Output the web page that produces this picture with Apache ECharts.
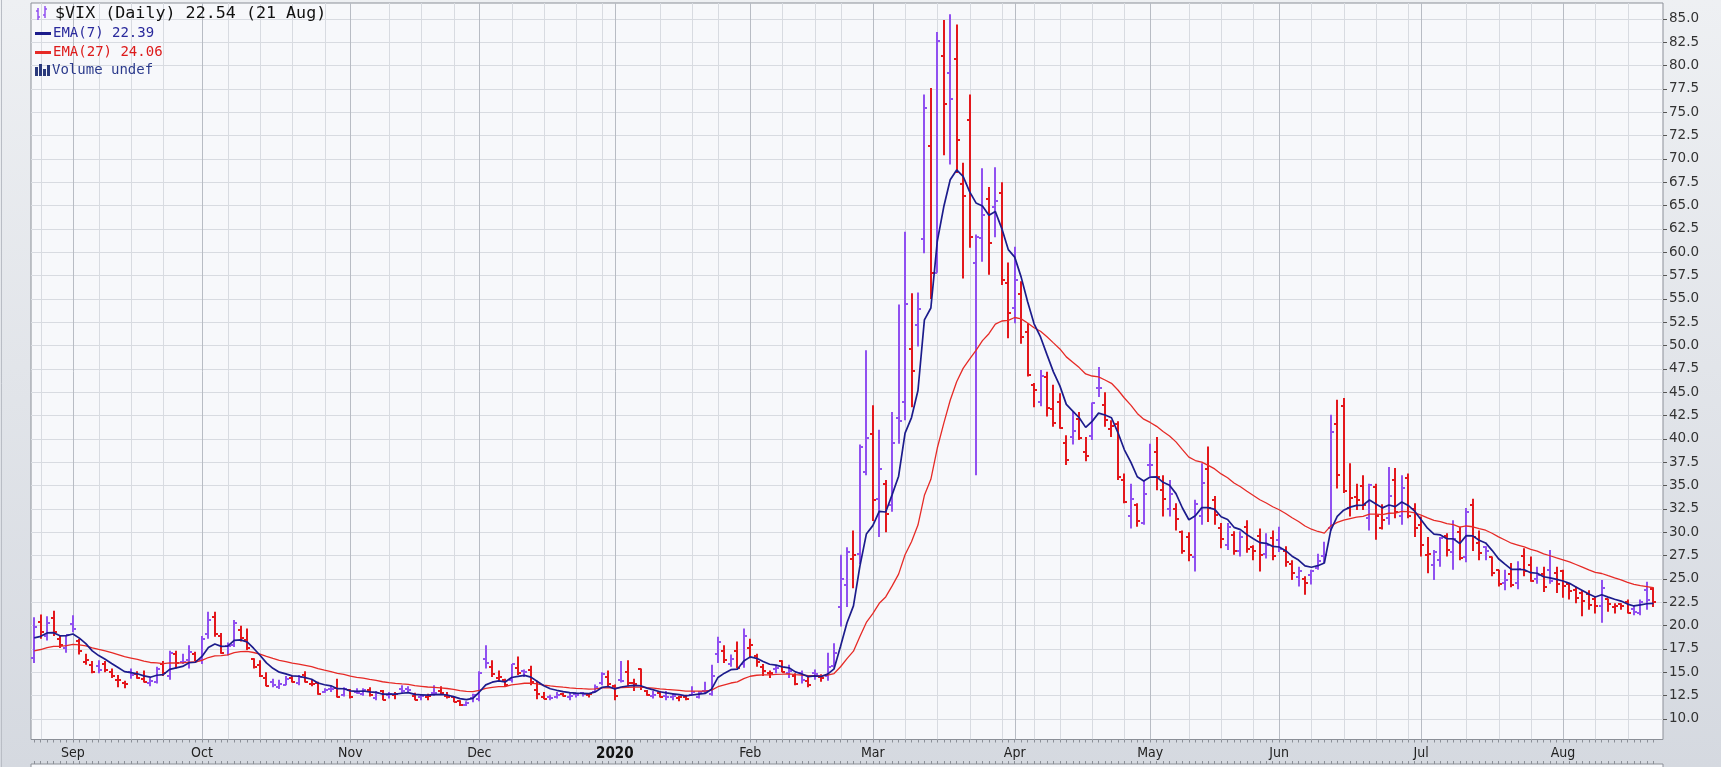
<!DOCTYPE html>
<html><head><meta charset="utf-8">
<script src="https://cdn.jsdelivr.net/npm/echarts@6/dist/echarts.min.js"></script>
<style>html,body{margin:0;padding:0;background:#e4e7ec;}#c{width:1721px;height:767px;}</style>
</head><body><div id="c"></div>
<script>
// ---- data (VIX daily, 23 Aug 2019 .. 21 Aug 2020) ----
const opens = [16.5,20.4,18.9,20.8,18.6,17.6,
20.2,18.4,16.1,15.8,15.7,15.9,15.0,14.2,13.8,15.0,14.8,14.3,13.9,14.0,15.9,14.6,17.0,16.1,16.3,17.0,
16.3,19.1,20.9,18.9,17.8,17.9,19.5,18.5,16.4,15.8,14.4,14.0,13.4,13.6,14.4,13.9,14.7,13.7,13.9,12.9,13.2,13.3,12.6,
13.1,12.9,12.7,13.1,12.2,13.0,12.6,12.6,13.2,13.2,12.5,12.3,12.3,12.8,13.0,12.5,12.3,11.9,11.5,12.2,
12.1,16.4,15.6,14.4,14.2,14.2,15.5,15.1,15.2,13.1,12.4,12.4,12.3,12.7,12.3,12.7,12.8,12.6,12.9,13.9,14.5,
13.5,14.2,15.0,13.9,15.4,13.0,12.5,12.8,12.5,12.4,12.2,12.3,12.6,12.4,13.0,12.7,17.0,17.3,15.9,17.3,15.9,
17.6,16.7,15.6,14.9,15.3,16.2,14.9,14.6,14.9,14.1,14.9,14.5,14.6,15.7,22.0,24.3,27.1,27.7,36.5,
40.5,33.6,35.2,32.9,42.2,44.0,49.6,52.2,61.4,71.4,57.8,81.0,79.2,80.7,67.3,74.2,58.9,61.5,65.7,64.9,66.4,56.7,
54.0,55.5,51.5,45.8,44.0,46.6,43.2,44.0,39.6,40.2,42.1,38.6,40.3,45.5,43.6,41.1,41.6,35.6,31.7,32.9,31.0,
37.2,38.6,34.5,32.5,32.5,30.0,29.5,27.3,31.7,36.8,33.5,30.5,28.6,29.7,28.0,30.6,28.4,29.6,27.7,29.4,
29.2,28.0,26.6,25.2,25.0,25.4,26.2,27.5,30.5,41.6,43.5,32.6,33.8,35.0,31.5,34.9,30.5,31.5,35.6,31.7,35.8,32.5,
30.8,27.6,26.5,27.0,29.6,27.9,30.0,27.3,32.9,28.9,28.4,27.3,26.0,24.6,25.5,24.6,27.5,26.5,25.0,25.5,26.0,25.6,
25.8,24.5,23.8,23.5,23.4,22.9,22.1,22.8,22.0,22.3,22.5,21.8,21.4,23.8,23.9];
const highs = [20.9,21.2,21.0,21.6,18.9,19.0,
21.1,18.6,17.0,16.2,16.3,16.2,15.4,14.7,14.1,15.4,15.1,15.2,14.4,15.6,16.2,17.3,17.3,17.0,17.9,17.2,
18.9,21.5,21.5,19.2,18.2,20.6,20.0,19.7,16.5,16.3,15.0,14.3,14.2,14.6,14.6,14.7,15.1,14.2,14.0,13.3,13.5,14.3,13.4,
13.2,13.3,13.3,13.4,13.0,13.1,12.9,12.9,13.6,13.5,12.8,12.6,12.7,13.6,13.5,12.9,12.4,12.0,11.9,12.7,
15.1,17.9,16.3,15.2,14.3,15.9,16.7,15.3,15.7,14.1,12.9,12.6,12.9,12.8,12.9,12.8,12.9,12.7,13.7,15.0,15.2,
13.7,16.2,16.3,14.3,15.4,13.1,13.0,13.0,13.0,12.7,12.5,12.6,13.5,13.0,14.0,15.8,18.8,17.9,16.9,18.3,19.7,
18.6,17.0,15.9,15.2,15.7,16.3,15.8,14.9,15.2,14.5,15.3,14.8,17.1,18.1,27.6,28.4,30.2,39.4,49.5,
43.6,41.0,35.6,42.9,54.4,62.2,55.6,55.7,76.9,77.6,83.6,84.9,85.5,84.4,69.6,76.9,61.9,69.0,67.0,69.1,67.5,58.9,
60.6,56.9,52.4,46.0,47.4,47.2,45.8,44.9,40.4,42.9,42.9,40.2,43.9,47.7,45.0,42.0,41.9,36.3,35.2,33.1,35.6,
39.5,40.2,36.1,35.6,33.1,30.2,30.0,33.5,37.4,39.2,33.9,31.0,31.0,30.1,30.1,31.3,28.6,30.4,29.9,30.2,
30.6,28.5,27.0,26.3,25.3,26.0,27.7,29.0,42.6,44.2,44.4,37.4,35.2,36.1,35.2,35.2,33.0,37.0,36.9,36.1,36.3,33.1,
31.7,29.5,28.1,29.5,29.9,31.3,30.6,32.6,33.6,30.2,28.5,27.4,26.0,26.0,26.7,26.9,28.3,27.4,26.3,26.3,28.1,26.3,
26.0,24.5,24.2,23.8,23.8,23.1,24.9,22.9,22.4,22.4,22.8,22.2,22.8,24.7,24.1];
const lows = [16.0,18.6,18.4,18.9,17.6,17.1,
19.3,16.9,15.8,14.9,14.9,15.0,14.4,13.4,13.3,14.3,14.3,13.9,13.5,13.8,14.6,14.2,15.4,15.9,15.4,16.2,
15.9,18.6,18.8,17.0,16.8,17.7,18.3,17.4,15.4,14.5,13.5,13.4,13.2,13.6,13.9,13.6,13.9,13.5,12.6,12.8,12.9,12.3,12.4,
12.2,12.7,12.5,12.4,12.0,12.0,12.2,12.1,12.7,12.8,12.0,12.0,12.0,12.5,12.6,12.2,11.8,11.4,11.4,11.8,
11.9,15.4,14.5,14.1,13.5,13.9,14.7,14.5,13.6,12.1,12.1,12.0,12.2,12.4,12.0,12.3,12.4,12.3,12.9,13.6,13.5,
12.0,13.9,13.5,13.0,13.1,12.5,12.2,12.3,12.0,12.0,11.9,12.0,12.5,12.2,12.7,12.5,16.0,16.0,15.6,15.4,15.5,
16.5,15.6,14.6,14.4,14.9,15.0,14.4,13.6,13.8,13.4,14.2,14.0,14.1,15.5,19.9,22.0,24.0,26.6,36.1,
31.2,29.5,30.0,32.2,39.5,42.0,43.4,49.9,59.9,55.0,57.8,70.4,69.4,68.5,57.2,60.5,36.1,59.0,57.6,61.6,56.5,50.8,
52.4,50.2,46.7,43.4,43.5,42.4,41.3,41.1,37.2,39.4,39.9,37.6,39.9,44.5,41.3,40.2,35.6,33.1,30.4,30.6,30.8,
36.0,34.5,31.7,31.7,30.2,27.7,26.9,25.8,30.8,31.1,30.8,28.3,28.1,27.6,27.4,27.8,27.0,25.8,27.2,27.0,
27.9,26.3,24.9,24.2,23.3,24.4,26.0,26.7,30.2,34.7,34.2,31.7,32.4,32.4,30.2,29.2,30.3,30.8,31.5,30.8,31.5,29.5,
27.4,25.6,24.9,26.3,27.4,26.0,27.0,26.8,28.0,27.0,27.0,25.3,24.2,23.8,24.1,23.9,25.3,24.7,24.5,23.6,24.5,23.5,
23.0,22.8,22.4,21.0,21.7,21.3,20.3,21.5,21.3,21.7,21.3,21.1,21.1,21.7,22.0];
const closes = [19.87,19.32,20.31,19.35,17.88,18.98,
19.66,17.33,16.27,15.00,15.27,15.20,14.61,14.22,13.74,14.67,14.44,13.95,14.05,15.32,14.91,17.05,15.96,16.07,17.22,16.24,
18.56,20.56,19.12,17.04,17.86,20.28,18.64,17.57,15.58,14.57,13.54,13.68,13.79,14.25,14.00,14.46,14.01,13.71,12.65,13.11,13.20,12.33,13.22,
12.30,12.83,13.10,12.62,12.73,12.07,12.69,12.68,13.00,13.05,12.05,12.46,12.41,12.78,12.76,12.34,11.87,11.54,11.75,12.62,
14.91,15.96,14.80,14.52,13.62,15.86,14.91,14.99,13.94,12.63,12.14,12.29,12.58,12.50,12.51,12.61,12.67,12.65,13.43,14.82,13.78,
12.47,14.02,13.85,13.79,13.45,12.54,12.56,12.32,12.39,12.42,12.32,12.10,12.85,12.91,12.98,14.56,18.23,16.28,16.39,15.49,18.84,
17.97,16.05,15.15,14.96,15.47,15.04,15.18,13.74,14.15,13.68,14.83,14.38,15.56,17.08,25.03,27.85,27.56,39.16,40.11,
33.42,36.82,31.99,39.62,41.94,54.46,47.30,53.90,75.47,57.83,82.69,75.91,76.45,72.00,66.04,61.59,61.67,63.95,61.00,65.54,57.08,53.54,
57.06,50.91,46.80,45.24,46.70,43.35,41.67,41.17,37.76,40.84,40.11,38.15,43.83,45.41,41.98,41.38,35.93,33.29,33.57,31.23,34.15,
37.19,35.97,33.61,34.12,31.44,27.98,27.57,33.04,35.28,32.61,31.89,29.30,30.53,27.99,29.53,28.16,28.01,27.62,28.59,27.51,
28.23,26.84,25.66,25.81,24.52,25.81,26.93,27.57,40.79,36.09,34.40,33.67,33.47,32.94,35.12,31.77,31.37,33.84,32.22,34.73,31.78,30.43,
28.62,27.68,27.94,29.43,28.08,29.26,27.29,32.19,29.52,27.76,28.00,25.68,24.46,24.84,24.32,26.08,25.84,24.74,25.44,24.10,24.76,24.46,
24.28,23.76,22.99,22.65,22.21,22.13,24.03,22.28,22.13,22.05,21.35,21.51,22.54,22.72,22.54];
const firstDay = '2019-08-23', lastDay = '2020-08-21';
const holidays = ['2019-09-02','2019-11-28','2019-12-25','2020-01-01','2020-01-20','2020-02-17','2020-04-10','2020-05-25','2020-07-03'];
const monthNames = ['Jan','Feb','Mar','Apr','May','Jun','Jul','Aug','Sep','Oct','Nov','Dec'];
const yTicks = [10,12.5,15,17.5,20,22.5,25,27.5,30,32.5,35,37.5,40,42.5,45,47.5,50,52.5,55,57.5,60,62.5,65,67.5,70,72.5,75,77.5,80,82.5,85];
const emaPeriods = [7, 27];
const emaSeeds = [18.3, 17.1];   // indicator levels just before the first bar
const legendTitle = '$VIX (Daily) 22.54 (21 Aug)';
const legendEma7 = 'EMA(7) 22.39';
const legendEma27 = 'EMA(27) 24.06';
const legendVol = 'Volume undef';

// ---- derived ----
const dates = [];
(function(){
  let t = Date.parse(firstDay + 'T00:00:00Z'); const end = Date.parse(lastDay + 'T00:00:00Z');
  while (t <= end) { const d = new Date(t); const wd = d.getUTCDay(); const iso = d.toISOString().slice(0,10);
    if (wd !== 0 && wd !== 6 && holidays.indexOf(iso) < 0) dates.push(iso); t += 86400000; }
})();
if (dates.length !== closes.length) console.error('length mismatch', dates.length, closes.length);
const N = closes.length;
const monthStarts = [];
for (let i = 1; i < N; i++) if (dates[i].slice(0,7) !== dates[i-1].slice(0,7)) monthStarts.push(i);
const monthLabel = {};
monthStarts.forEach(i => { const m = +dates[i].slice(5,7) - 1; monthLabel[i] = m === 0 ? '{y|' + dates[i].slice(0,4) + '}' : monthNames[m]; });
const weekStarts = [];
for (let i = 1; i < N; i++) {
  const a = new Date(dates[i-1] + 'T00:00:00Z'), b = new Date(dates[i] + 'T00:00:00Z');
  if (b.getUTCDay() < a.getUTCDay() || (b - a) / 86400000 >= 7) {
    if (monthStarts.indexOf(i) >= 0) continue;
    let skip = false;
    monthStarts.forEach(m => { if ((i - m > 0 && i - m <= 2) || (m - i > 0 && m - i <= 1)) skip = true; });
    if (!skip) weekStarts.push(i);
  }
}
const gridData = weekStarts.map(i => [i, 0]).concat(monthStarts.map(i => [i, 1]));
function ema(period, seed) { const k = 2 / (period + 1); let e = seed; return closes.map((c, i) => { e = e + k * (c - e); return [i, e]; }); }
const ema7 = ema(emaPeriods[0], emaSeeds[0]);
const ema27 = ema(emaPeriods[1], emaSeeds[1]);
const ohlc = closes.map((c, i) => [i, opens[i], highs[i], lows[i], c, (i === 0 ? c >= opens[i] : c >= closes[i-1]) ? 1 : 0]);
const barIdx = closes.map((c, i) => i);

const PURPLE = '#9050f0', RED = '#e3171c', NAVY = '#1c1c8c', EMARED = '#e62a26';
const chart = echarts.init(document.getElementById('c'), null, {renderer: 'canvas'});
chart.setOption({
  animation: false,
  backgroundColor: {type:'linear', x:0, y:0, x2:0, y2:1, colorStops:[{offset:0, color:'#eef0f3'},{offset:1, color:'#d5d9e0'}]},
  grid: [
    {left: 31, top: 3, width: 1632, height: 736.5, show: true, backgroundColor: '#f7f8fb', borderColor: '#8b8f97', borderWidth: 1},
    {left: 31, top: 764, width: 1632, height: 40, show: true, backgroundColor: '#f7f8fb', borderColor: '#8b8f97', borderWidth: 1}
  ],
  xAxis: [
    {type:'value', gridIndex:0, min:-0.5, max:252.5,
     axisLine:{show:false, onZero:false},
     axisTick:{show:true, customValues: barIdx, length:3, lineStyle:{color:'#8b8f97'}},
     axisLabel:{show:true, customValues: monthStarts, formatter: v => monthLabel[Math.round(v)] || '', margin:7,
       fontFamily:'DejaVu Sans Condensed', fontSize:14, color:'#222', rich:{y:{fontFamily:'DejaVu Sans Condensed', fontSize:15, fontWeight:'bold', color:'#111'}}},
     splitLine:{show:false}},
    {type:'value', gridIndex:1, min:-0.5, max:252.5, position:'top',
     axisLine:{show:false, onZero:false}, axisTick:{show:true, customValues: barIdx, length:3, lineStyle:{color:'#8b8f97'}},
     axisLabel:{show:false}, splitLine:{show:false}}
  ],
  yAxis: [
    {type:'value', gridIndex:0, position:'right', min:7.8, max:86.71,
     axisLine:{show:false, onZero:false},
     axisTick:{show:true, inside:false, customValues: yTicks, length:4, lineStyle:{color:'#555'}},
     axisLabel:{customValues: yTicks, formatter: v => v.toFixed(1), margin:6, fontFamily:'DejaVu Sans', fontSize:13.5, color:'#333'},
     splitLine:{show:true, lineStyle:{color:'#d8dbe1', width:1}}},
    {type:'value', gridIndex:1, min:0, max:1, show:false, axisLine:{onZero:false}}
  ],
  series: [
    {type:'custom', name:'grid', xAxisIndex:0, yAxisIndex:0, z:1, silent:true, clip:true,
     data: gridData,
     renderItem: function(params, api){
       const x = Math.round(api.coord([api.value(0), 40])[0]) + 0.5; const cs = params.coordSys;
       return {type:'line', shape:{x1:x, y1:cs.y, x2:x, y2:cs.y + cs.height},
               style:{stroke: api.value(1) ? '#b8bcc4' : '#d8dbe1', lineWidth:1}};
     }},
    {type:'custom', name:'$VIX', xAxisIndex:0, yAxisIndex:0, z:3, clip:true,
     encode:{x:0, y:[1,2,3,4]},
     data: ohlc,
     renderItem: function(params, api){
       const i = api.value(0);
       const h = api.coord([i, api.value(2)]), l = api.coord([i, api.value(3)]);
       const o = api.coord([i, api.value(1)]), c = api.coord([i, api.value(4)]);
       const col = api.value(5) ? PURPLE : RED;
       const x = Math.round(h[0]);
       const st = {stroke: col, lineWidth: 2};
       return {type:'group', children:[
         {type:'line', shape:{x1:x, y1:h[1], x2:x, y2:l[1]}, style:st},
         {type:'line', shape:{x1:x - 3, y1:Math.round(o[1]), x2:x, y2:Math.round(o[1])}, style:st},
         {type:'line', shape:{x1:x, y1:Math.round(c[1]), x2:x + 3, y2:Math.round(c[1])}, style:st}
       ]};
     }},
    {type:'line', name:'EMA(27)', xAxisIndex:0, yAxisIndex:0, z:4, data: ema27, showSymbol:false, symbol:'none',
     lineStyle:{color:EMARED, width:1.3}},
    {type:'line', name:'EMA(7)', xAxisIndex:0, yAxisIndex:0, z:5, data: ema7, showSymbol:false, symbol:'none',
     lineStyle:{color:NAVY, width:1.7}}
  ],
  graphic: [
    {type:'line', shape:{x1:1.5, y1:0, x2:1.5, y2:767}, style:{stroke:'#b9bdc5', lineWidth:1}, z:10},
    // price icon
    {type:'line', shape:{x1:38, y1:8, x2:38, y2:20}, style:{stroke:PURPLE, lineWidth:1.5}, z:10},
    {type:'line', shape:{x1:36, y1:11, x2:38, y2:11}, style:{stroke:PURPLE, lineWidth:1.5}, z:10},
    {type:'line', shape:{x1:38, y1:17, x2:40, y2:17}, style:{stroke:PURPLE, lineWidth:1.5}, z:10},
    {type:'line', shape:{x1:45, y1:6, x2:45, y2:18}, style:{stroke:PURPLE, lineWidth:1.5}, z:10},
    {type:'line', shape:{x1:43, y1:15, x2:45, y2:15}, style:{stroke:PURPLE, lineWidth:1.5}, z:10},
    {type:'line', shape:{x1:45, y1:9, x2:47, y2:9}, style:{stroke:PURPLE, lineWidth:1.5}, z:10},
    {type:'text', left:55, top:5, z:10, style:{text: legendTitle, font:'16.7px "DejaVu Sans Mono"', fill:'#111'}},
    {type:'line', shape:{x1:35, y1:33.5, x2:51, y2:33.5}, style:{stroke:NAVY, lineWidth:3}, z:10},
    {type:'text', left:53, top:26, z:10, style:{text: legendEma7, font:'14px "DejaVu Sans Mono"', fill:'#2a2a9c'}},
    {type:'line', shape:{x1:35, y1:52.5, x2:51, y2:52.5}, style:{stroke:EMARED, lineWidth:3}, z:10},
    {type:'text', left:53, top:45, z:10, style:{text: legendEma27, font:'14px "DejaVu Sans Mono"', fill:'#dd1a1a'}},
    {type:'rect', shape:{x:35, y:67, width:3, height:9}, style:{fill:'#2b3a7c'}, z:10},
    {type:'rect', shape:{x:39, y:64, width:3, height:12}, style:{fill:'#2b3a7c'}, z:10},
    {type:'rect', shape:{x:43, y:69, width:3, height:7}, style:{fill:'#2b3a7c'}, z:10},
    {type:'rect', shape:{x:47, y:65, width:3, height:11}, style:{fill:'#2b3a7c'}, z:10},
    {type:'text', left:52, top:63, z:10, style:{text: legendVol, font:'14px "DejaVu Sans Mono"', fill:'#2b3a8c'}}
  ]
});
</script></body></html>
